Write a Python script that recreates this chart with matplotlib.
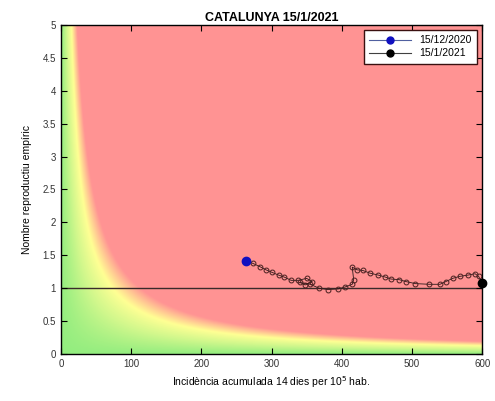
"""
risk diagram: empirical reproduction number vs 14-day incidence (Catalunya)
"""
import numpy as np
import matplotlib
matplotlib.use('Agg')
import matplotlib.pyplot as plt
from matplotlib.colors import LinearSegmentedColormap

# daily values 15/12/2020 -> 15/1/2021
ia14 = [264, 273, 283, 292, 301, 310, 318, 328, 338, 350, 358, 348, 340, 355,
        368, 380, 395, 405, 415, 417, 415, 422, 430, 440, 452, 462, 470, 482,
        492, 505, 525, 540, 548, 558, 568, 580, 590, 595, 600]
rho7 = [1.41, 1.38, 1.33, 1.28, 1.24, 1.20, 1.17, 1.12, 1.12, 1.15, 1.10, 1.05,
        1.09, 1.06, 1.00, 0.98, 0.99, 1.02, 1.06, 1.13, 1.32, 1.28, 1.27, 1.23,
        1.20, 1.17, 1.14, 1.13, 1.10, 1.07, 1.06, 1.06, 1.10, 1.15, 1.18, 1.20,
        1.22, 1.18, 1.08]
first_label = '15/12/2020'
last_label = '15/1/2021'
xticks = [0, 100, 200, 300, 400, 500, 600]
yticks = [0, 0.5, 1, 1.5, 2, 2.5, 3, 3.5, 4, 4.5, 5]

plt.rcParams['font.family'] = ['Liberation Sans', 'DejaVu Sans']

fig = plt.figure(figsize=(4.95, 4.01), dpi=100)
ax = fig.add_axes([0.123, 0.117, 0.851, 0.821])

# background: colour by EPG = IA14 * rho
gx = np.linspace(0, 600, 600)
gy = np.linspace(0, 5, 500)
X, Y = np.meshgrid(gx, gy)
epg = X * Y
cmap = LinearSegmentedColormap.from_list('risk', [
    (0.0, (0.58, 0.93, 0.50)),
    (0.28, (0.82, 0.97, 0.55)),
    (0.52, (1.00, 1.00, 0.58)),
    (0.80, (1.00, 0.58, 0.58)),
    (1.0, (1.00, 0.58, 0.58)),
])
ax.imshow(epg, extent=[0, 600, 0, 5], origin='lower', aspect='auto',
          cmap=cmap, vmin=0, vmax=140, interpolation='bilinear', zorder=0)

ax.axhline(1, color='#3a2a2a', lw=1.0, zorder=1)

ax.plot(ia14, rho7, '-o', color='#2a1a1a', lw=0.6, ms=3.5, mfc='none',
        mec='#4a2020', mew=0.7, zorder=2)
ax.plot(ia14[0], rho7[0], 'o', color='#1010c0', ms=6, zorder=3,
        clip_on=False)
ax.plot(ia14[-1], rho7[-1], 'o', color='k', ms=6, zorder=3, clip_on=False)

# legend proxies
ax.plot([], [], '-o', color='#5060a0', ms=5, lw=0.8, mfc='#1010c0',
        mec='#1010c0', label=first_label)
ax.plot([], [], '-o', color='#404040', ms=5, lw=0.8, mfc='k', mec='k',
        label=last_label)
leg = ax.legend(loc='upper right', fontsize=7.5, fancybox=False, framealpha=1,
                edgecolor='#3a1010', borderaxespad=0.5, handlelength=4,
                borderpad=0.5, labelspacing=0.3)
leg.get_frame().set_linewidth(1.0)

ax.set_xlim(0, 600)
ax.set_ylim(0, 5)
ax.set_xticks(xticks)
ax.set_yticks(yticks)
ax.set_yticklabels(['%g' % v for v in yticks])
ax.tick_params(direction='in', top=True, right=True, labelsize=7,
               length=4, width=0.8, labelcolor='#333333')
for s in ax.spines.values():
    s.set_linewidth(1.0)

ax.set_title('CATALUNYA 15/1/2021', fontsize=9, fontweight='bold', pad=3)
ax.set_xlabel('Incidència acumulada 14 dies per 10$^5$ hab.', fontsize=7.5)
ax.set_ylabel('Nombre reproductiu empíric', fontsize=7.5, labelpad=8)

fig.savefig('out.png', dpi=100)
